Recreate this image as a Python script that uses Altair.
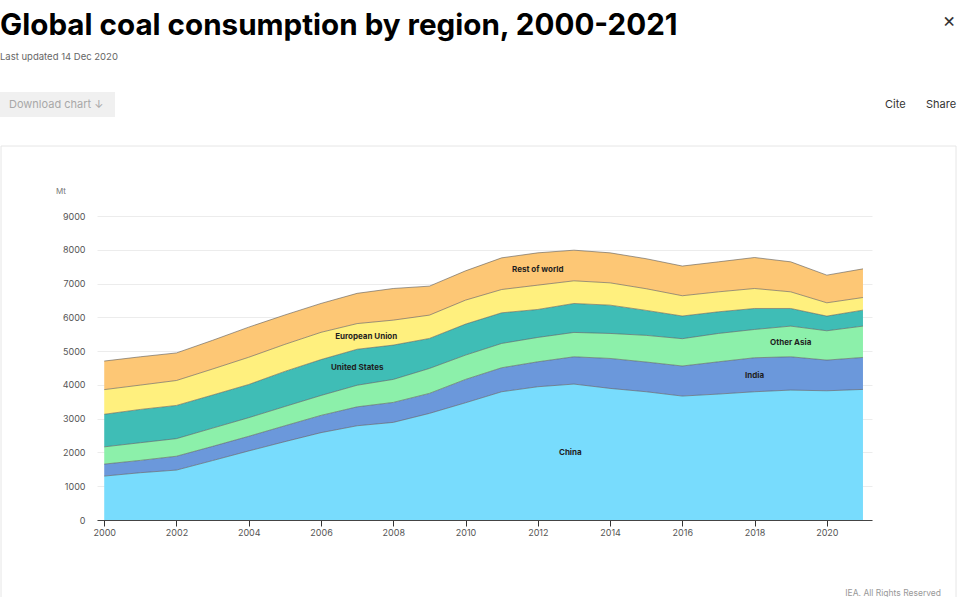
import altair as alt
import pandas as pd

years = list(range(2000, 2022))
regions = ["China", "India", "Other Asia", "United States", "European Union", "Rest of world"]
colors = ["#78dcfd", "#6b98db", "#8cf0aa", "#3fbdb6", "#fff07e", "#fdc775"]

china = [1300, 1400, 1478, 1760, 2045, 2320, 2586, 2790, 2890, 3156, 3471, 3797, 3945, 4024, 3896, 3797, 3669, 3728, 3797, 3846, 3826, 3866]
india = [355, 365, 410, 420, 433, 470, 511, 560, 591, 592, 691, 710, 739, 808, 887, 880, 890, 956, 1006, 986, 908, 947]
other_asia = [510, 523, 521, 540, 551, 570, 590, 640, 681, 739, 720, 720, 721, 721, 740, 789, 809, 839, 838, 908, 868, 927]
united_states = [965, 986, 983, 980, 983, 1040, 1062, 1065, 1016, 888, 917, 907, 828, 857, 838, 740, 671, 641, 621, 522, 434, 473]
european_union = [730, 720, 738, 770, 806, 800, 807, 760, 739, 690, 710, 690, 720, 671, 660, 641, 600, 591, 592, 493, 394, 374]
rest_of_world = [845, 838, 816, 850, 892, 870, 855, 895, 937, 858, 867, 937, 956, 907, 888, 888, 879, 888, 917, 888, 819, 848]

series = [china, india, other_asia, united_states, european_union, rest_of_world]

label_names = ["China", "India", "Other Asia", "United States", "European Union", "Rest of world"]
label_years = [2012.9, 2018.0, 2019.0, 2007.0, 2007.25, 2012.0]
label_values = [1980, 4260, 5240, 4500, 5410, 7400]

y_ticks = list(range(0, 9001, 1000))
x_ticks = list(range(2000, 2021, 2))

rows = []
for i, (name, vals) in enumerate(zip(regions, series)):
    for yr, v in zip(years, vals):
        rows.append({"region": name, "year": yr, "value": v, "order": i})
df = pd.DataFrame(rows)
labels_df = pd.DataFrame({"label": label_names, "year": label_years, "value": label_values})

FONT = "Inter"

xscale = alt.Scale(domain=[1999.8, 2021.25], nice=False, zero=False)
yscale = alt.Scale(domain=[0, 9000], nice=False)

xaxis = alt.Axis(values=x_ticks, format="d", grid=False, tickSize=6,
                 tickColor="#333", domainColor="#444", domainWidth=1.2,
                 labelColor="#555", labelFontSize=9, labelFont=FONT,
                 labelPadding=2, labelOverlap=False, title=None)
yaxis = alt.Axis(values=y_ticks, format="d", grid=True, gridColor="#ececec",
                 ticks=False, domain=False, labelColor="#555",
                 labelFontSize=9, labelFont=FONT, labelPadding=12,
                 labelOverlap=False, title=None)

base = alt.Chart(df).transform_stack(
    stack="value", groupby=["year"], as_=["y0", "y1"],
    sort=[alt.SortField("order", order="ascending")]
)

area = base.mark_area(interpolate="linear", opacity=1).encode(
    x=alt.X("year:Q", scale=xscale, axis=xaxis),
    y=alt.Y("y1:Q", scale=yscale, axis=yaxis),
    y2="y0:Q",
    color=alt.Color("region:N", scale=alt.Scale(domain=regions, range=colors), legend=None),
    order=alt.Order("order:Q"),
)

lines = base.mark_line(interpolate="linear", color="#5a5a5a", strokeWidth=0.8, opacity=0.75).encode(
    x=alt.X("year:Q", scale=xscale, axis=xaxis),
    y=alt.Y("y1:Q", scale=yscale, axis=yaxis),
    detail="region:N",
)

labels = alt.Chart(labels_df).mark_text(font=FONT, fontSize=8, fontWeight="bold", color="#1f1f1f").encode(
    x=alt.X("year:Q", scale=xscale, axis=xaxis),
    y=alt.Y("value:Q", scale=yscale, axis=yaxis),
    text="label:N",
)


def deco(text, x, y, size, color, weight="normal", align="left", font=FONT):
    return alt.Chart(alt.Data(values=[{"t": text}])).mark_text(
        align=align, baseline="alphabetic", font=font, fontSize=size,
        fontWeight=weight, color=color
    ).encode(x=alt.value(x), y=alt.value(y), text="t:N")


OX, OY = 97, 216  # plot origin on page

panel = alt.Chart(alt.Data(values=[{}])).mark_rect(
    filled=False, stroke="#e6e6e6", strokeWidth=1
).encode(x=alt.value(1 - OX), x2=alt.value(956 - OX), y=alt.value(146 - OY), y2=alt.value(640 - OY))

button = alt.Chart(alt.Data(values=[{}])).mark_rect(fill="#f0f0f0").encode(
    x=alt.value(0 - OX), x2=alt.value(115 - OX), y=alt.value(92 - OY), y2=alt.value(117 - OY)
)

decos = [
    deco("Global coal consumption by region, 2000-2021", 0 - OX, 35 - OY, 29.6, "#000000", "bold"),
    deco("Last updated 14 Dec 2020", 0 - OX, 60 - OY, 9.5, "#666666"),
    deco("Download chart ↓", 9 - OX, 108 - OY, 11, "#a8a8a8"),
    deco("Cite", 885 - OX, 108 - OY, 11, "#333333"),
    deco("Share", 926 - OX, 108 - OY, 11, "#333333"),
    deco("×", 949 - OX, 27 - OY, 20, "#333333", align="center"),
    deco("Mt", 56 - OX, 194 - OY, 8, "#777777"),
    deco("IEA. All Rights Reserved", 941 - OX, 596 - OY, 8.5, "#999999", align="right"),
]

chart = alt.layer(panel, button, area, lines, labels, *decos).properties(
    width=775, height=304,
    padding={"left": OX, "top": OY, "right": 960 - OX - 775, "bottom": 597 - OY - 304},
    autosize=alt.AutoSizeParams(type="none"),
    background="white",
).configure_view(strokeWidth=0, stroke="transparent")

chart.save("out.html", embed_options={"renderer": "svg", "actions": False})
